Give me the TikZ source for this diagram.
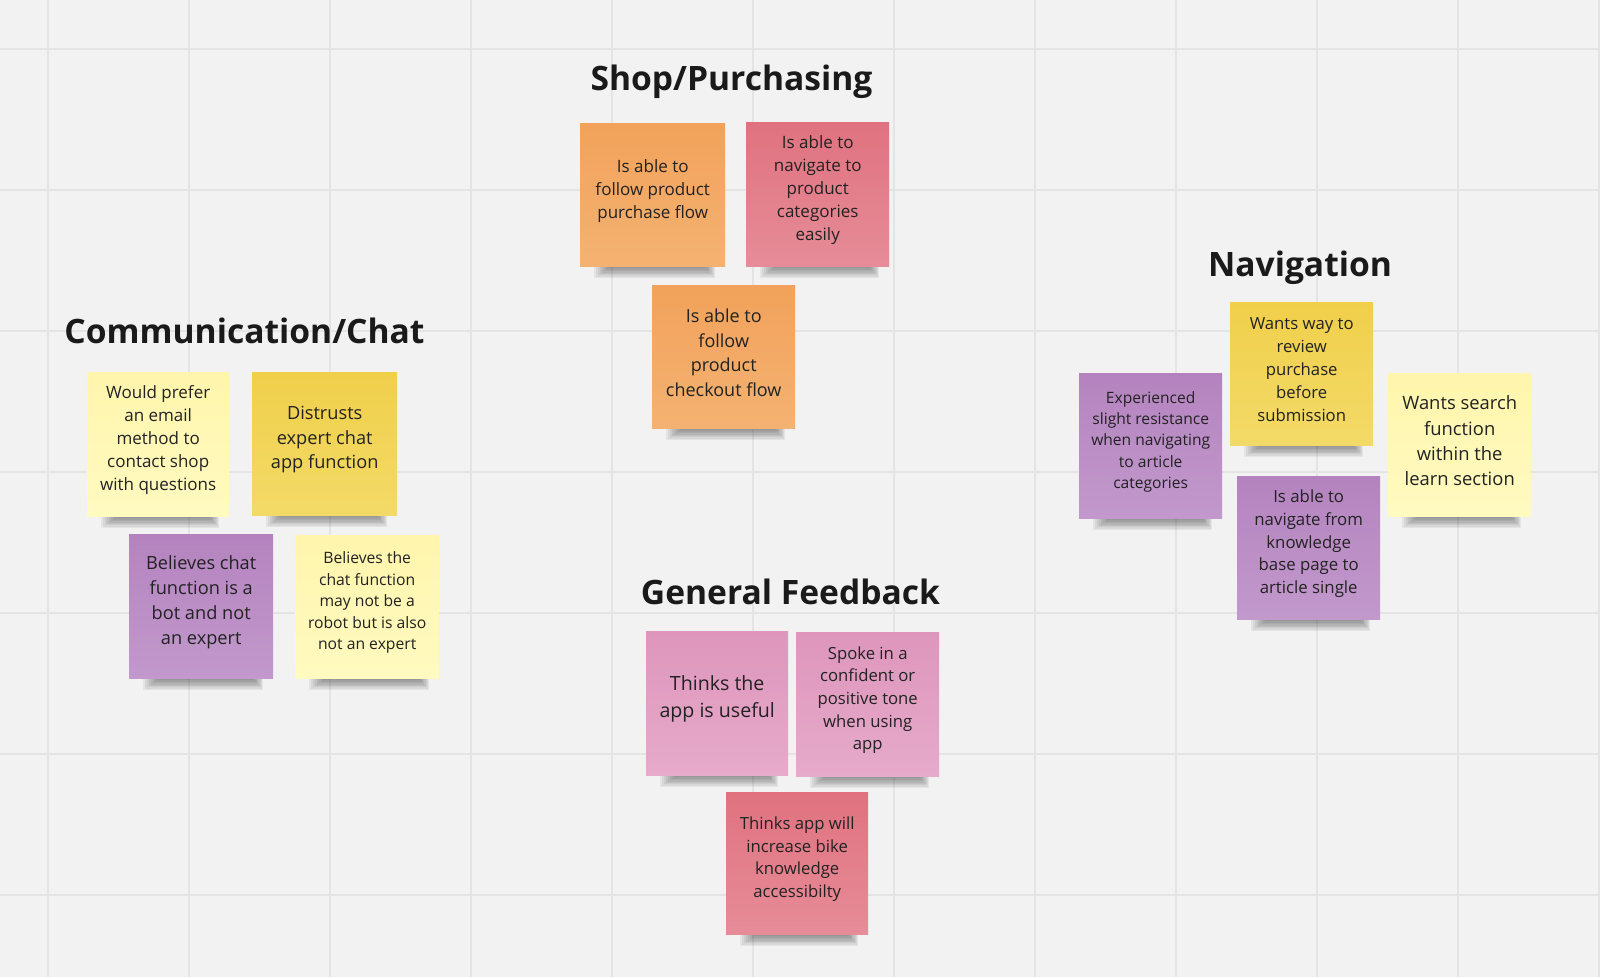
\documentclass[tikz,border=0pt]{standalone}
\usepackage{fontspec}
\setmainfont{Open Sans}
\definecolor{bgcol}{HTML}{F2F2F2}
\definecolor{gridcol}{HTML}{E4E4E4}
\definecolor{txtcol}{HTML}{222222}
\definecolor{titlecol}{HTML}{1A1A1A}
\definecolor{orA}{HTML}{F2A25A}
\definecolor{orB}{HTML}{F4B272}
\definecolor{reA}{HTML}{E0727F}
\definecolor{reB}{HTML}{E68C98}
\definecolor{piA}{HTML}{DE96BC}
\definecolor{piB}{HTML}{E6AACA}
\definecolor{puA}{HTML}{B483BF}
\definecolor{puB}{HTML}{C299CC}
\definecolor{yeA}{HTML}{F0CF4A}
\definecolor{yeB}{HTML}{F3DA68}
\definecolor{liA}{HTML}{FFF5AC}
\definecolor{liB}{HTML}{FFFAC0}
\tikzset{
  gridline/.style={draw=gridcol, line width=1.6pt},
  shadowlayer/.style={fill=black, fill opacity=0.055, draw=none},
  notebase/.style={draw=none, inner sep=0pt, anchor=north west},
  orangenote/.style={notebase, top color=orA, bottom color=orB},
  rednote/.style={notebase, top color=reA, bottom color=reB},
  pinknote/.style={notebase, top color=piA, bottom color=piB},
  purplenote/.style={notebase, top color=puA, bottom color=puB},
  yellownote/.style={notebase, top color=yeA, bottom color=yeB},
  lightnote/.style={notebase, top color=liA, bottom color=liB},
  notetext/.style={text=txtcol, align=center, inner sep=0pt},
  title/.style={text=titlecol, font=\fontsize{33.6}{40}\selectfont\bfseries, anchor=base, inner sep=0pt}
}
% name, x, y, w, h, style, fontsize, leading, text
\newcommand{\sticky}[9]{%
  \foreach \k in {0,...,8}
    \fill[shadowlayer] (#2+30-2*\k,#3+#5-4) rectangle (#2+#4-20+1.3*\k,#3+#5+1+1.4*\k);
  \node[#6, minimum width=#4pt, minimum height=#5pt] (#1) at (#2,#3) {};
  \node[notetext, font=\fontsize{#7}{#8}\selectfont] (#1t) at ([yshift=4pt]#1.center) {#9};
}
\begin{document}
\begin{tikzpicture}[x=1pt,y=-1pt]
\useasboundingbox (0,0) rectangle (1600,977);
\fill[bgcol] (0,0) rectangle (1600,977);
\foreach \gx in {48,189,330,471,612,753,894,1035,1176,1317,1458,1599}
  \draw[gridline] (\gx,0) -- (\gx,977);
\foreach \gy in {49,190,331,472,613,754,895}
  \draw[gridline] (0,\gy) -- (1600,\gy);

% titles
\node[title] (tshop) at (731.5,90) {Shop/Purchasing};
\node[title] (tcomm) at (244.5,343) {Communication/Chat};
\node[title] (tnav) at (1300,276) {Navigation};
\node[title] (tgen) at (790.5,604) {General Feedback};

% Shop/Purchasing
\sticky{oa}{580}{123}{145}{143}{orangenote}{17}{23}{Is able to\\follow product\\purchase flow}
\sticky{ra}{746}{122}{143}{144}{rednote}{17}{23}{Is able to\\navigate to\\product\\categories\\easily}
\sticky{ob}{652}{285}{143}{143}{orangenote}{18}{24.4}{Is able to\\follow\\product\\checkout flow}

% Communication/Chat
\sticky{la}{87}{372}{142}{144}{lightnote}{17}{23}{Would prefer\\an email\\method to\\contact shop\\with questions}
\sticky{ya}{252}{372}{145}{143}{yellownote}{18.2}{24.7}{Distrusts\\expert chat\\app function}
\sticky{pa}{129}{534}{144}{144}{purplenote}{18.2}{24.8}{Believes chat\\function is a\\bot and not\\an expert}
\sticky{lb}{295}{535}{144}{143}{lightnote}{15.7}{21.4}{Believes the\\chat function\\may not be a\\robot but is also\\not an expert}

% Navigation
\sticky{pb}{1079}{373}{143}{145}{purplenote}{15.6}{21.3}{Experienced\\slight resistance\\when navigating\\to article\\categories}
\sticky{yb}{1230}{302}{143}{143}{yellownote}{16.7}{22.8}{Wants way to\\review\\purchase\\before\\submission}
\sticky{lc}{1388}{373}{143}{143}{lightnote}{18.4}{25.1}{Wants search\\function\\within the\\learn section}
\sticky{pc}{1237}{476}{143}{143}{purplenote}{16.8}{22.8}{Is able to\\navigate from\\knowledge\\base page to\\article single}

% General Feedback
\sticky{ka}{646}{631}{142}{144}{pinknote}{19.6}{26.7}{Thinks the\\app is useful}
\sticky{kb}{796}{632}{143}{144}{pinknote}{16.7}{22.7}{Spoke in a\\confident or\\positive tone\\when using\\app}
\sticky{rb}{726}{792}{142}{142}{rednote}{16.7}{22.8}{Thinks app will\\increase bike\\knowledge\\accessibilty}
\end{tikzpicture}
\end{document}
